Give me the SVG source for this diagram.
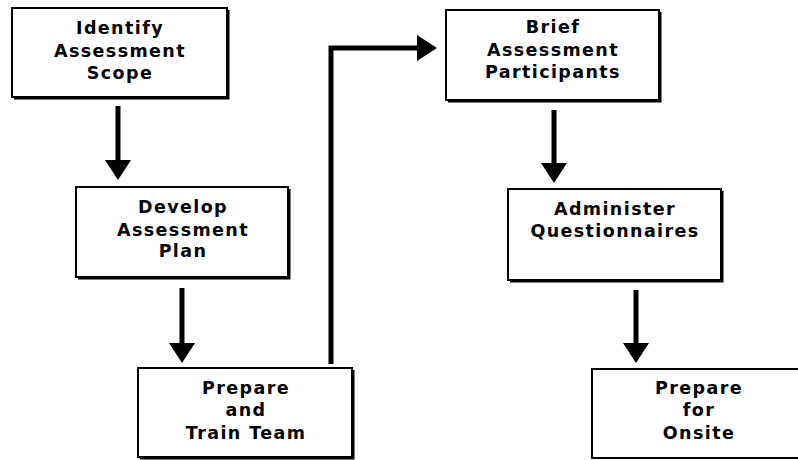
<svg xmlns="http://www.w3.org/2000/svg" width="798" height="460" viewBox="0 0 798 460">
<style>
.box{fill:#fff;stroke:#000;stroke-width:2}
.sh{fill:none;stroke:#000;stroke-width:3}
.t{font-family:"DejaVu Sans",sans-serif;font-weight:bold;font-size:17.5px;letter-spacing:1.4px;text-anchor:middle;fill:#000}
.c{fill:none;stroke:#000;stroke-width:5;marker-end:url(#ah)}
</style>
<defs>
<marker id="ah" markerUnits="userSpaceOnUse" markerWidth="20" markerHeight="26" refX="0" refY="13" orient="auto" overflow="visible">
<path d="M0,0 L20,13 L0,26 z" fill="#000"/>
</marker>
</defs>
<rect width="798" height="460" fill="#fff"/>
<g id="connectors">
<line class="c" x1="118" y1="106" x2="118" y2="160"/>
<line class="c" x1="182" y1="288" x2="182" y2="343"/>
<path class="c" d="M331,364 V48 H417"/>
<line class="c" x1="554" y1="110" x2="554" y2="163"/>
<line class="c" x1="636" y1="290" x2="636" y2="343"/>
</g>
<g id="identify">
<rect class="box" x="12" y="8" width="215" height="89"/>
<path class="sh" d="M228,10 V98 H14"/>
<text class="t" x="120" y="34">Identify</text>
<text class="t" x="120" y="57">Assessment</text>
<text class="t" x="120" y="79">Scope</text>
</g>
<g id="develop">
<rect class="box" x="76" y="187" width="212" height="90"/>
<path class="sh" d="M289,189 V278 H78"/>
<text class="t" x="183" y="213">Develop</text>
<text class="t" x="183" y="236">Assessment</text>
<text class="t" x="183" y="257">Plan</text>
</g>
<g id="prepare-train">
<rect class="box" x="138" y="368" width="214" height="89"/>
<path class="sh" d="M353,370 V458 H140"/>
<text class="t" x="246" y="394">Prepare</text>
<text class="t" x="246" y="416">and</text>
<text class="t" x="246" y="439">Train Team</text>
</g>
<g id="brief">
<rect class="box" x="446" y="10" width="213" height="90"/>
<path class="sh" d="M660,12 V101 H448"/>
<text class="t" x="553" y="33">Brief</text>
<text class="t" x="553" y="56">Assessment</text>
<text class="t" x="553" y="78">Participants</text>
</g>
<g id="administer">
<rect class="box" x="508" y="189" width="213" height="91"/>
<path class="sh" d="M722,191 V281 H510"/>
<text class="t" x="615" y="215">Administer</text>
<text class="t" x="615" y="237">Questionnaires</text>
</g>
<g id="prepare-onsite">
<rect class="box" x="592" y="369" width="214" height="89"/>
<text class="t" x="699" y="394">Prepare</text>
<text class="t" x="699" y="416">for</text>
<text class="t" x="699" y="439">Onsite</text>
</g>
</svg>
